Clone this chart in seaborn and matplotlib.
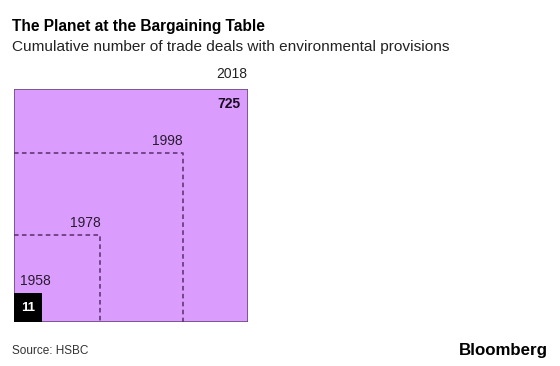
import numpy as np
import matplotlib
matplotlib.use("Agg")
import matplotlib.pyplot as plt
import seaborn as sns

years = ["1958", "1978", "1998", "2018"]
deals = [11, 100, 380, 725]

sns.set_style("white")
plt.rcParams['font.family'] = ['Liberation Sans', 'DejaVu Sans']

fig = plt.figure(figsize=(5.6, 3.66), dpi=100)
W, H = 560, 366
ax = fig.add_axes([13.5 / W, (H - 322) / H, 234 / W, 233 / H])

sides = np.sqrt(deals)
smax = sides[-1]
fill = "#DA9DFD"
edge = "#6E4C80"
dash = "#5A2E6C"

# outer square (2018)
ax.bar(0, sides[-1], width=sides[-1], align="edge", color=fill,
       edgecolor=edge, linewidth=1.2, zorder=1)
# dashed squares for intermediate years
for yr, s in zip(years[1:-1], sides[1:-1]):
    ax.plot([0, s, s], [s, s, 0], color=dash, linewidth=1.1,
            dashes=(3, 2.2), zorder=2)
    ax.annotate(yr, xy=(s, s), xytext=(0, 4), textcoords="offset points",
                ha="right", va="bottom", fontsize=10, color="#2a1a30")
# 1958 black square
ax.bar(0, sides[0], width=sides[0], align="edge", color="black",
       edgecolor="black", linewidth=0, zorder=3)
ax.annotate(years[0], xy=(0, sides[0]), xytext=(5, 4), textcoords="offset points",
            ha="left", va="bottom", fontsize=10, color="#2a1a30")
ax.text(sides[0] / 2, sides[0] / 2, str(deals[0]), ha="center", va="center",
        fontsize=9.5, fontweight="bold", color="white", zorder=4)
# 2018 labels
ax.annotate(years[-1], xy=(smax, smax), xytext=(0, 6), textcoords="offset points",
            ha="right", va="bottom", fontsize=10, color="#222222")
ax.annotate(str(deals[-1]), xy=(smax, smax), xytext=(-5, -6), textcoords="offset points",
            ha="right", va="top", fontsize=10, fontweight="bold", color="#1a0d20")

ax.set_xlim(0, smax)
ax.set_ylim(0, smax)
ax.set_axis_off()

fig.text(12 / W, 1 - 26 / H, "The Planet at the Bargaining Table", ha="left",
         va="center", fontsize=11.2, fontweight="bold", color="black")
fig.text(12 / W, 1 - 47 / H, "Cumulative number of trade deals with environmental provisions",
         ha="left", va="center", fontsize=11.05, color="#222222")
fig.text(12 / W, 1 - 351 / H, "Source: HSBC", ha="left", va="center",
         fontsize=8.5, color="#333333")
fig.text(548 / W, 1 - 350 / H, "Bloomberg", ha="right", va="center",
         fontsize=12.2, fontweight="bold", color="black")

fig.savefig("out.png", dpi=100)
